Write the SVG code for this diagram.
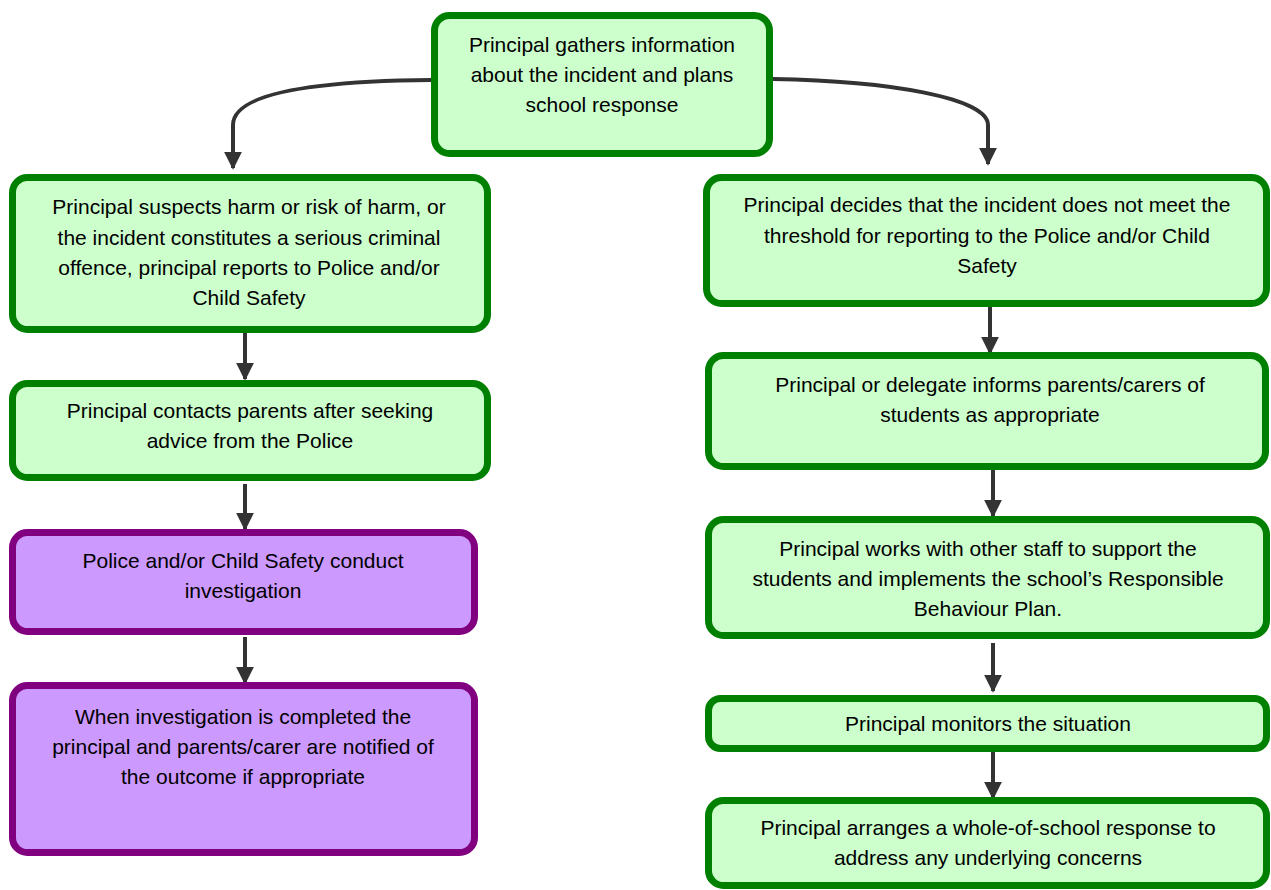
<svg xmlns="http://www.w3.org/2000/svg" width="1271" height="890" viewBox="0 0 1271 890">
<style>
.g rect{fill:#ccffcc;stroke:#008000;stroke-width:7}
.p rect{fill:#cc99ff;stroke:#800080;stroke-width:7}
text{font-family:"Liberation Sans",Arial,sans-serif;font-size:21px;fill:#000;text-anchor:middle}
.c path{fill:none;stroke:#333;stroke-width:4}
</style>
<defs>
<marker id="ah" viewBox="0 0 10 10" refX="9" refY="5" markerWidth="4.5" markerHeight="4.5" markerUnits="strokeWidth" orient="auto">
<path d="M0,0 L10,5 L0,10 z" fill="#333"/>
</marker>
</defs>
<rect width="1271" height="890" fill="#fff"/>
<g class="c" id="connectors">
<path d="M431,80 C320,81 233,92 233,125 L233,168" marker-end="url(#ah)"/>
<path d="M773,79 C890,81 988,98 988,125 L988,164" marker-end="url(#ah)"/>
<path d="M245,333 L245,379" marker-end="url(#ah)"/>
<path d="M245,484 L245,529" marker-end="url(#ah)"/>
<path d="M245,637 L245,683" marker-end="url(#ah)"/>
<path d="M990,307 L990,353" marker-end="url(#ah)"/>
<path d="M993,470 L993,516" marker-end="url(#ah)"/>
<path d="M993,643 L993,691" marker-end="url(#ah)"/>
<path d="M993,752 L993,798" marker-end="url(#ah)"/>
</g>
<g id="n0" class="g"><rect x="434.5" y="15.5" width="335" height="138" rx="15"/>
<text x="602" y="52">Principal gathers information</text><text x="602" y="82">about the incident and plans</text><text x="602" y="112">school response</text></g>
<g id="n1" class="g"><rect x="12.5" y="177.5" width="475" height="152" rx="15"/>
<text x="249" y="214">Principal suspects harm or risk of harm, or</text><text x="249" y="245">the incident constitutes a serious criminal</text><text x="249" y="275">offence, principal reports to Police and/or</text><text x="249" y="305">Child Safety</text></g>
<g id="n2" class="g"><rect x="12.5" y="383.5" width="475" height="94" rx="15"/>
<text x="250" y="418">Principal contacts parents after seeking</text><text x="250" y="448">advice from the Police</text></g>
<g id="n3" class="p"><rect x="12.5" y="532.5" width="462" height="99" rx="15"/>
<text x="243" y="568">Police and/or Child Safety conduct</text><text x="243" y="598">investigation</text></g>
<g id="n4" class="p"><rect x="12.5" y="685.5" width="462" height="167" rx="15"/>
<text x="243" y="724">When investigation is completed the</text><text x="243" y="754">principal and parents/carer are notified of</text><text x="243" y="784">the outcome if appropriate</text></g>
<g id="n5" class="g"><rect x="706.5" y="177.5" width="560" height="126" rx="15"/>
<text x="987" y="212">Principal decides that the incident does not meet the</text><text x="987" y="243">threshold for reporting to the Police and/or Child</text><text x="987" y="273">Safety</text></g>
<g id="n6" class="g"><rect x="708.5" y="355.5" width="557" height="111" rx="15"/>
<text x="990" y="392">Principal or delegate informs parents/carers of</text><text x="990" y="422">students as appropriate</text></g>
<g id="n7" class="g"><rect x="708.5" y="519.5" width="558" height="116" rx="15"/>
<text x="988" y="556">Principal works with other staff to support the</text><text x="988" y="586">students and implements the school’s Responsible</text><text x="988" y="616">Behaviour Plan.</text></g>
<g id="n8" class="g"><rect x="708.5" y="698.5" width="558" height="50" rx="12"/>
<text x="988" y="731">Principal monitors the situation</text></g>
<g id="n9" class="g"><rect x="708.5" y="800.5" width="558" height="85" rx="15"/>
<text x="988" y="835">Principal arranges a whole-of-school response to</text><text x="988" y="865">address any underlying concerns</text></g>
</svg>
